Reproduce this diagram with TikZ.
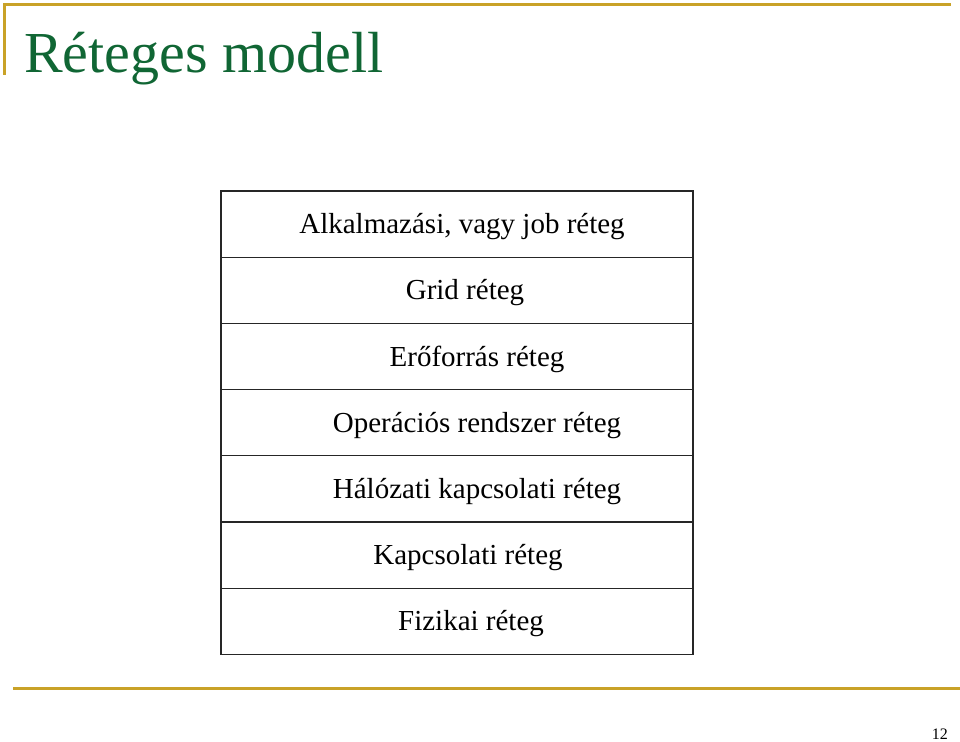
\documentclass[tikz,border=0pt]{standalone}
\usepackage{fontspec}
\setmainfont{Liberation Serif}
\usetikzlibrary{positioning}
\definecolor{slidegold}{RGB}{201,162,39}
\definecolor{titlegreen}{RGB}{16,102,52}

\begin{document}
\begin{tikzpicture}[x=1pt,y=-1pt,
  layer/.style={draw=black!85, line width=1.3pt, outer sep=0pt, inner sep=0pt,
    minimum width=472pt, minimum height=66.2pt},
  layertext/.style={inner sep=0pt, yshift=-2.5pt, font=\fontsize{29}{32}\selectfont},
  goldline/.style={draw=slidegold, line width=3pt}]
\useasboundingbox (0,0) rectangle (960,741);
%----------------------------------
\coordinate (tl) at (4,5); \coordinate (tr) at (951,5);
\coordinate (tv) at (4,75);
\coordinate (bl) at (13,688); \coordinate (br) at (960,688);
\draw[goldline] (tv) -- (tl) -- (tr);
\draw[goldline] (bl) -- (br);
\node[anchor=base west, text=titlegreen, inner sep=0pt,
  font=\fontsize{58}{60}\selectfont] (title) at (24,73) {Réteges modell};
%----------------------------------
\node[layer] (alk) at (457,224.1) {};
\node[layer, below=0pt of alk] (grid) {};
\node[layer, below=0pt of grid] (eroforras) {};
\node[layer, below=0pt of eroforras] (oprendszer) {};
\node[layer, below=0pt of oprendszer] (halozat) {};
\node[layer, below=0pt of halozat] (kapcs) {};
\node[layer, below=0pt of kapcs] (fizikai) {};
%----------------------------------
\node[layertext, xshift=5pt] (alkt) at (alk) {Alkalmazási, vagy job réteg};
\node[layertext, xshift=8pt] (gridt) at (grid) {Grid réteg};
\node[layertext, xshift=20pt] (eroforrast) at (eroforras) {Erőforrás réteg};
\node[layertext, xshift=20pt] (oprendszert) at (oprendszer) {Operációs rendszer réteg};
\node[layertext, xshift=20pt] (halozatt) at (halozat) {Hálózati kapcsolati réteg};
\node[layertext, xshift=11pt] (kapcst) at (kapcs) {Kapcsolati réteg};
\node[layertext, xshift=14pt] (fizikait) at (fizikai) {Fizikai réteg};
%----------------------------------
\node[anchor=base east, inner sep=0pt, font=\fontsize{16}{18}\selectfont] (oldal) at (948,739) {12};
\end{tikzpicture}
\end{document}
